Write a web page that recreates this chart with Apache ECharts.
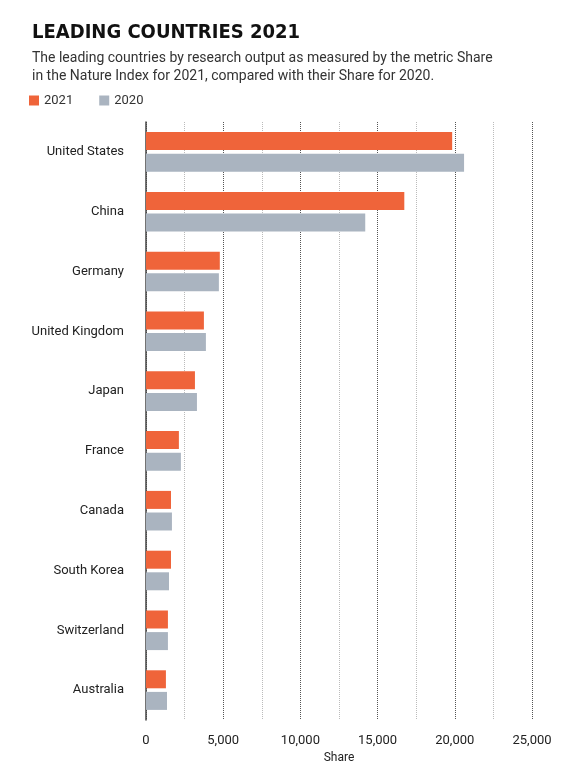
<!DOCTYPE html>
<html>
<head>
<meta charset="utf-8">
<script src="https://cdn.jsdelivr.net/npm/echarts@6/dist/echarts.min.js"></script>
<style>body{margin:0;background:#fff}#chart{width:588px;height:777px}</style>
</head>
<body>
<div id="chart"></div>
<script>
var countries = ['United States', 'China', 'Germany', 'United Kingdom', 'Japan', 'France', 'Canada', 'South Korea', 'Switzerland', 'Australia'];
var share2021 = [19830, 16730, 4780, 3750, 3170, 2130, 1620, 1620, 1420, 1290];
var share2020 = [20600, 14200, 4720, 3880, 3300, 2260, 1680, 1490, 1420, 1360];

var chart = echarts.init(document.getElementById('chart'));
chart.setOption({
	backgroundColor: '#fff',
	title: {
		text: 'LEADING COUNTRIES 2021',
		subtext: 'The leading countries by research output as measured by the metric Share\nin the Nature Index for 2021, compared with their Share for 2020.',
		left: 27, top: 18, itemGap: 6,
		textStyle: {fontFamily: '"DejaVu Sans Condensed", "Liberation Sans Narrow", "Liberation Sans", sans-serif', fontWeight: 'bold', fontSize: 20, color: '#111'},
		subtextStyle: {fontFamily: 'Roboto', fontSize: 14, color: '#333', lineHeight: 18}
	},
	legend: {
		left: 24, top: 89, itemWidth: 10, itemHeight: 10, itemGap: 26, icon: 'rect',
		textStyle: {fontFamily: 'Roboto', fontSize: 13, color: '#333'},
		data: ['2021', '2020']
	},
	grid: {left: 146, right: 56, top: 122, bottom: 57},
	xAxis: {
		type: 'value', min: 0, max: 25000, interval: 5000,
		name: 'Share', nameLocation: 'middle', nameGap: 26,
		nameTextStyle: {fontFamily: 'Roboto', fontSize: 12, color: '#222'},
		axisLine: {show: false}, axisTick: {show: false},
		axisLabel: {fontFamily: 'Roboto', fontSize: 13, color: '#222', margin: 14,
			formatter: function (v) { return v.toLocaleString('en-US'); }},
		splitLine: {lineStyle: {type: 'dotted', color: '#555', width: 1}},
		minorTick: {show: false, splitNumber: 2},
		minorSplitLine: {show: true, lineStyle: {type: 'dotted', color: '#bbb', width: 1}}
	},
	yAxis: {
		type: 'category', data: countries, inverse: true,
		axisLine: {lineStyle: {color: '#444', width: 1.5}},
		axisTick: {show: false},
		axisLabel: {fontFamily: 'Roboto', fontSize: 13, color: '#222', margin: 22}
	},
	series: [
		{name: '2021', type: 'bar', data: share2021, barWidth: 18, barGap: '20%', itemStyle: {color: '#ef643a'}},
		{name: '2020', type: 'bar', data: share2020, barWidth: 18, itemStyle: {color: '#aab4c0'}}
	]
});
</script>
</body>
</html>
